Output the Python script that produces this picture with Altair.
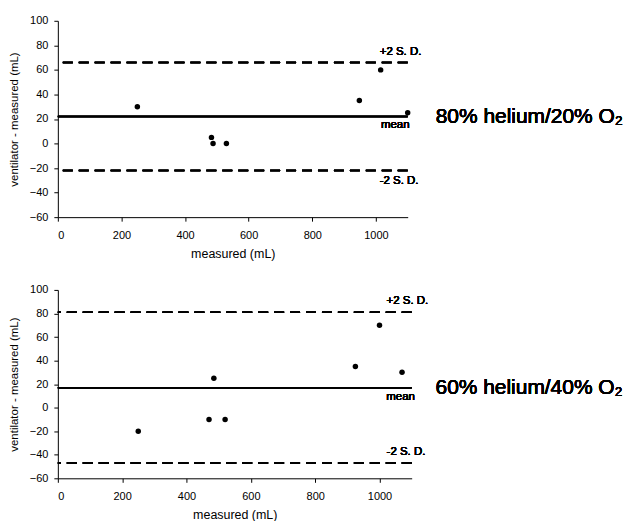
import altair as alt
import pandas as pd

# Panel 1: 80% helium / 20% O2
meas_1 = [250, 483, 488, 530, 948, 1015, 1100]
diff_1 = [30, 5, 0, 0, 35, 60, 25]
mean_1 = 22
hi_1 = 66
lo_1 = -22

# Panel 2: 60% helium / 40% O2
meas_2 = [250, 470, 485, 520, 925, 1000, 1070]
diff_2 = [-20, -10, 25, -10, 35, 70, 30]
mean_2 = 17
hi_2 = 81
lo_2 = -47

x_ticks = [0, 200, 400, 600, 800, 1000]
y_ticks = [-60, -40, -20, 0, 20, 40, 60, 80, 100]

FONT = "Liberation Sans"


def panel(meas, diff, mean, hi, lo, title, w, h, lab_x, mean_x, title_x, lo_dy):
    df = pd.DataFrame({"measured": meas, "diff": diff})
    xs = alt.Scale(domain=[0, 1100], nice=False)
    ys = alt.Scale(domain=[-60, 100], nice=False)
    xax = alt.Axis(values=x_ticks, format="d", title="measured (mL)",
                   grid=False, labelOverlap=False, labelPadding=8,
                   titleFontSize=12.5, titlePadding=7)
    yax = alt.Axis(values=y_ticks, format="d", title="ventilator - measured (mL)",
                   grid=False, labelOverlap=False, titleFontSize=11.5, titlePadding=10)
    base = alt.Chart(df)
    pts = base.mark_circle(size=30, color="black", opacity=1).encode(
        x=alt.X("measured:Q", scale=xs, axis=xax),
        y=alt.Y("diff:Q", scale=ys, axis=yax),
    )

    def rule(v, dash):
        kw = {"strokeDash": dash} if dash else {}
        return base.mark_rule(color="black", strokeWidth=1.5, **kw).encode(
            y=alt.Y(datum=v, scale=ys, axis=yax))

    mean_rule = rule(mean, None)
    hi_rule = rule(hi, [10, 6])
    lo_rule = rule(lo, [10, 6])

    def lab(text, xv, yv, dy, align="left", size=11.5):
        return base.mark_text(text=text, align=align, baseline="middle", dy=dy,
                              fontSize=size, font=FONT, fontWeight=400, color="black").encode(
            x=alt.X(datum=xv, scale=xs, axis=xax), y=alt.Y(datum=yv, scale=ys, axis=yax))

    t_hi = lab("+2 S. D.", lab_x, hi, -11)
    t_mean = lab("mean", mean_x, mean, 9, align="right")
    t_lo = lab("-2 S. D.", lab_x, lo, lo_dy)
    t_title = lab(title, title_x, mean, 0, size=21)
    return alt.layer(pts, mean_rule, hi_rule, lo_rule, t_hi, t_mean, t_lo, t_title).properties(
        width=w, height=h)


top = panel(meas_1, diff_1, mean_1, hi_1, lo_1, "80% helium/20% O\u2082", 351, 197,
            1012, 1106, 1188, 11)
bottom = panel(meas_2, diff_2, mean_2, hi_2, lo_2, "60% helium/40% O\u2082", 355, 189,
               1022, 1110, 1174, -11)

chart = alt.vconcat(top, bottom, spacing=24).properties(
    padding={"left": 0, "top": 6, "right": 0, "bottom": 0}
).configure_view(stroke=None).configure_axis(
    grid=False, domainColor="black", tickColor="black", labelColor="black",
    titleColor="black", labelFont=FONT, titleFont=FONT, labelFontSize=11,
    titleFontSize=11, titleFontWeight="normal", tickSize=4, labelPadding=6,
    titlePadding=8,
)

chart.save("out.html", embed_options={"renderer": "svg", "actions": False})
